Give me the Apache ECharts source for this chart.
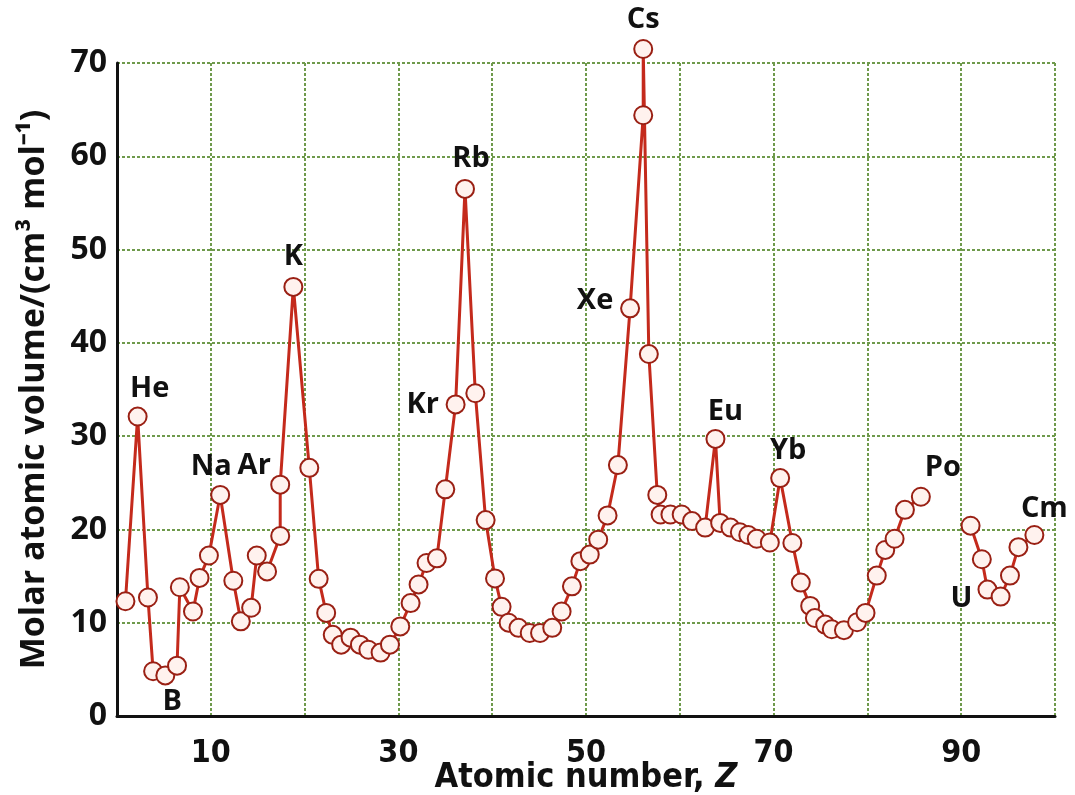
<!DOCTYPE html>
<html>
<head>
<meta charset="utf-8">
<script src="https://cdn.jsdelivr.net/npm/echarts@6/dist/echarts.min.js"></script>
<style>
html,body{margin:0;padding:0;background:#fff;overflow:hidden;width:1075px;height:795px;}
#chart{width:1075px;height:795px;position:absolute;left:0;top:0;}
</style>
</head>
<body>
<div id="chart"></div>
<script>
// ---- data ----
const elements = ['H','He','Li','Be','B','C','N','O','F','Ne','Na','Mg','Al','Si','P','S','Cl','Ar','K','Ca',
  'Sc','Ti','V','Cr','Mn','Fe','Co','Ni','Cu','Zn','Ga','Ge','As','Se','Br','Kr','Rb','Sr','Y','Zr',
  'Nb','Mo','Tc','Ru','Rh','Pd','Ag','Cd','In','Sn','Sb','Te','I','Xe','Cs\u2032','Cs','Ba','La','Ce','Pr',
  'Nd','Pm','Sm','Eu','Gd','Tb','Dy','Ho','Er','Tm','Yb','Lu','Hf','Ta','W','Re','Os','Ir','Pt','Au',
  'Hg','Tl','Pb','Bi','Po'];
const atomicPos = [0.9,2.2,3.3,3.85,5.15,6.4,6.7,8.1,8.8,9.8,11.0,12.4,13.2,14.3,14.9,16.0,17.4,17.4,18.8,20.5,
  21.5,22.3,23.0,23.9,24.9,25.9,26.8,28.1,29.1,30.2,31.3,32.15,33.0,34.1,35.0,36.1,37.1,38.2,39.3,40.3,
  41.0,41.75,42.8,44.0,45.1,46.4,47.4,48.5,49.4,50.4,51.3,52.3,53.4,54.7,56.1,56.1,56.7,57.6,57.95,59.0,
  60.2,61.3,62.7,63.8,64.3,65.4,66.4,67.3,68.2,69.6,70.7,72.0,72.9,73.9,74.4,75.5,76.2,77.5,78.9,79.8,
  81.0,81.9,82.9,84.0,85.7];
const molarVolume = [12.3,32.1,12.7,4.8,4.35,5.4,13.8,11.2,14.8,17.2,23.7,14.5,10.15,11.6,17.2,15.5,19.3,24.8,46.0,26.6,
  14.7,11.05,8.7,7.65,8.4,7.65,7.1,6.8,7.65,9.6,12.1,14.1,16.4,16.9,24.3,33.4,56.5,34.6,21.0,14.75,
  11.7,10.0,9.45,8.9,8.9,9.45,11.2,13.9,16.6,17.3,18.9,21.5,26.9,43.7,64.4,71.5,38.8,23.7,21.6,21.6,
  21.6,20.9,20.2,29.7,20.7,20.2,19.7,19.4,19.0,18.6,25.5,18.55,14.3,11.8,10.5,9.8,9.3,9.2,10.05,11.05,
  15.05,17.8,19.0,22.1,23.5];
const actinides = ['Th','Pa','U','Np','Pu','Am','Cm'];
const actinidePos = [91.0,92.2,92.8,94.2,95.2,96.1,97.8];
const actinideVolume = [20.4,16.8,13.55,12.8,15.05,18.1,19.4];
const labelled = ['He','B','Na','Ar','K','Kr','Rb','Xe','Cs','Eu','Yb','Po','Cm','U'];
const xTickLabels = [10,30,50,70,90];
const yTickLabels = [0,10,20,30,40,50,60,70];

// ---- label placement (style, not data) ----
const labelOffset = {He:[12,-28],B:[7,26],Na:[-9,-28],Ar:[-26,-19],K:[0,-30],Kr:[-33,0],Rb:[6,-30],
  Xe:[-35,-8],Cs:[0,-29],Eu:[10,-27],Yb:[8,-27],Po:[22,-29],Cm:[10,-26],U:[-26,9]};

function buildData(names, xs, ys){
  return xs.map((x,i)=>{
    const item = {name:names[i], value:[x, ys[i]]};
    if (labelled.indexOf(names[i]) >= 0){
      item.label = {show:true, formatter:names[i], position:'inside', offset:labelOffset[names[i]]};
    }
    return item;
  });
}

const W = 1075, H = 795;
const lineRed = '#c42a1c';
const markerStyle = {color:'#fff2ee', borderColor:'#9a2014', borderWidth:2};
const labelStyle = {color:'#111', fontFamily:'"Open Sans", sans-serif', fontWeight:'bold', fontSize:29,
  align:'center', verticalAlign:'middle'};
const gridLine = {show:true, lineStyle:{color:'#6f9a4c', width:2, type:[3,2]}};
const condensed = '"Liberation Sans Narrow","DejaVu Sans Condensed","Roboto Condensed",sans-serif';

function makeSeries(data){
  return {
    type:'line', data:data, clip:false, symbol:'circle', symbolSize:18,
    lineStyle:{color:lineRed, width:3}, itemStyle:markerStyle,
    label:Object.assign({show:false}, labelStyle), z:3, animation:false,
    emphasis:{disabled:true}
  };
}

const chart = echarts.init(document.getElementById('chart'), null, {renderer:'canvas', width:W, height:H});
chart.setOption({
  backgroundColor:'#fff',
  animation:false,
  grid:{left:117, right:20, top:63, bottom:79, containLabel:false, outerBoundsMode:'none'},
  xAxis:{
    type:'value', min:0, max:100, interval:10,
    axisLine:{show:true, onZero:false, lineStyle:{color:'#111', width:3}},
    axisTick:{show:false},
    splitLine:gridLine,
    axisLabel:{
      margin:22, color:'#111', fontSize:32, fontWeight:'bold', fontFamily:condensed,
      formatter:v=> xTickLabels.indexOf(v) >= 0 ? String(v) : ''
    },
    name:'{t|Atomic number, }{z|Z}', nameLocation:'middle', nameGap:44, nameMoveOverlap:false,
    nameTextStyle:{rich:{
      t:{fontSize:34, lineHeight:36, fontWeight:'bold', color:'#111', fontFamily:condensed},
      z:{fontSize:34, lineHeight:36, fontWeight:'bold', fontStyle:'italic', color:'#111', fontFamily:condensed}
    }}
  },
  yAxis:{
    type:'value', min:0, max:70, interval:10,
    axisLine:{show:true, lineStyle:{color:'#111', width:3}},
    axisTick:{show:false},
    splitLine:gridLine,
    axisLabel:{margin:10, color:'#111', fontSize:32, fontWeight:'bold', fontFamily:'"Open Sans", sans-serif',
      formatter:v=> yTickLabels.indexOf(v) >= 0 ? String(v) : ''},
    name:'Molar atomic volume/(cm\u00B3 mol\u207B\u00B9)', nameLocation:'middle', nameRotate:90, nameGap:66,
    nameMoveOverlap:false,
    nameTextStyle:{color:'#111', fontSize:34, fontWeight:'bold', fontFamily:'"Open Sans", sans-serif'}
  },
  series:[
    makeSeries(buildData(elements, atomicPos, molarVolume)),
    makeSeries(buildData(actinides, actinidePos, actinideVolume))
  ]
});
</script>
</body>
</html>
